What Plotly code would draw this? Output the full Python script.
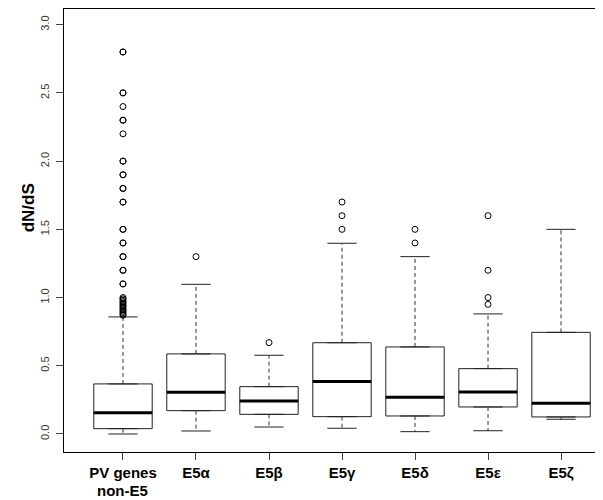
import plotly.graph_objects as go

categories = ["PV genes", "E5α", "E5β", "E5γ", "E5δ", "E5ε", "E5ζ"]
category_second_line = ["non-E5", "", "", "", "", "", ""]
q1 = [0.039, 0.171, 0.144, 0.127, 0.132, 0.198, 0.125]
median = [0.156, 0.306, 0.242, 0.384, 0.269, 0.308, 0.225]
q3 = [0.367, 0.587, 0.347, 0.669, 0.638, 0.479, 0.745]
lower_whisker = [0.0, 0.022, 0.051, 0.042, 0.017, 0.024, 0.108]
upper_whisker = [0.858, 1.097, 0.577, 1.398, 1.30, 0.880, 1.50]

outliers = [
    [2.8, 2.8, 2.5, 2.5, 2.4, 2.3, 2.3, 2.2, 2.0, 2.0, 1.9, 1.9, 1.8, 1.8,
     1.7, 1.7, 1.5, 1.5, 1.4, 1.4, 1.3, 1.3, 1.2, 1.2, 1.1, 1.1,
     1.00, 0.99, 0.98, 0.97, 0.96, 0.95, 0.94, 0.93, 0.92, 0.91, 0.90,
     0.89, 0.88, 0.87],
    [1.30],
    [0.67],
    [1.70, 1.60, 1.50],
    [1.50, 1.40],
    [1.60, 1.20, 1.00, 0.95],
    [],
]

y_tick_vals = [0.0, 0.5, 1.0, 1.5, 2.0, 2.5, 3.0]
y_tick_text = ["0.0", "0.5", "1.0", "1.5", "2.0", "2.5", "3.0"]
y_title = "dN/dS"

positions = list(range(1, len(categories) + 1))
HALF_BOX = 0.4
HALF_CAP = 0.2

# the page body adds an 8px offset; size the figure to compensate
BODY = 8

fig = go.Figure()

fig.add_trace(go.Box(
    x=positions, q1=q1, median=median, q3=q3,
    lowerfence=q1, upperfence=q3,
    width=2 * HALF_BOX, fillcolor="white",
    line=dict(color="#222222", width=1), boxpoints=False,
    hoverinfo="skip", showlegend=False,
))

wx, wy, cx, cy = [], [], [], []
for p, a, b, lo, hi in zip(positions, q1, q3, lower_whisker, upper_whisker):
    wx += [p, p, None, p, p, None]
    wy += [b, hi, None, a, lo, None]
    cx += [p - HALF_CAP, p + HALF_CAP, None, p - HALF_CAP, p + HALF_CAP, None]
    cy += [hi, hi, None, lo, lo, None]
fig.add_trace(go.Scatter(x=wx, y=wy, mode="lines",
                         line=dict(color="#333333", width=1, dash="4px,3px"),
                         showlegend=False, hoverinfo="skip"))
fig.add_trace(go.Scatter(x=cx, y=cy, mode="lines",
                         line=dict(color="#222222", width=1),
                         showlegend=False, hoverinfo="skip"))

mx, my = [], []
for p, m in zip(positions, median):
    mx += [p - HALF_BOX, p + HALF_BOX, None]
    my += [m, m, None]
fig.add_trace(go.Scatter(x=mx, y=my, mode="lines",
                         line=dict(color="black", width=3),
                         showlegend=False, hoverinfo="skip"))

ox, oy = [], []
for p, vals in zip(positions, outliers):
    ox += [p] * len(vals)
    oy += vals
fig.add_trace(go.Scatter(x=ox, y=oy, mode="markers",
                         marker=dict(symbol="circle-open", size=6,
                                     color="black", line=dict(width=1)),
                         showlegend=False, hoverinfo="skip"))

font_family = "Liberation Sans, Arial, Helvetica, sans-serif"

annotations = []
for p, t in zip(positions, category_second_line):
    if t:
        annotations.append(dict(
            x=p, xref="x", y=-0.0858, yref="paper",
            xanchor="center", yanchor="middle", showarrow=False,
            text=t, font=dict(size=15, weight="bold", color="black"),
        ))
annotations.append(dict(
    x=-0.066, xref="paper", y=0.551, yref="paper",
    xanchor="center", yanchor="middle", showarrow=False, textangle=-90,
    text=y_title, font=dict(size=17, weight="bold", color="black"),
))

fig.update_layout(
    width=603 - BODY, height=500 - BODY,
    margin=dict(l=64 - BODY, r=0, t=9 - BODY, b=48, pad=0),
    paper_bgcolor="white", plot_bgcolor="white",
    font=dict(family=font_family, color="black"),
    annotations=annotations,
    xaxis=dict(
        range=[0.192, 7.575], automargin=False,
        tickmode="array", tickvals=positions, ticktext=categories,
        tickfont=dict(size=15, weight="bold", color="black"),
        showline=True, mirror=True, linecolor="black", linewidth=1,
        ticks="outside", ticklen=7, tickcolor="#444444",
        showgrid=False, zeroline=False,
    ),
    yaxis=dict(
        range=[-0.132, 3.115], automargin=False,
        tickmode="array", tickvals=y_tick_vals, ticktext=y_tick_text,
        tickangle=-90, ticklabelstandoff=3,
        tickfont=dict(size=11, color="#333333"),
        showline=True, linecolor="black", linewidth=1,
        ticks="outside", ticklen=7, tickcolor="#444444",
        showgrid=False, zeroline=False,
    ),
)

fig.write_html("out.html")
